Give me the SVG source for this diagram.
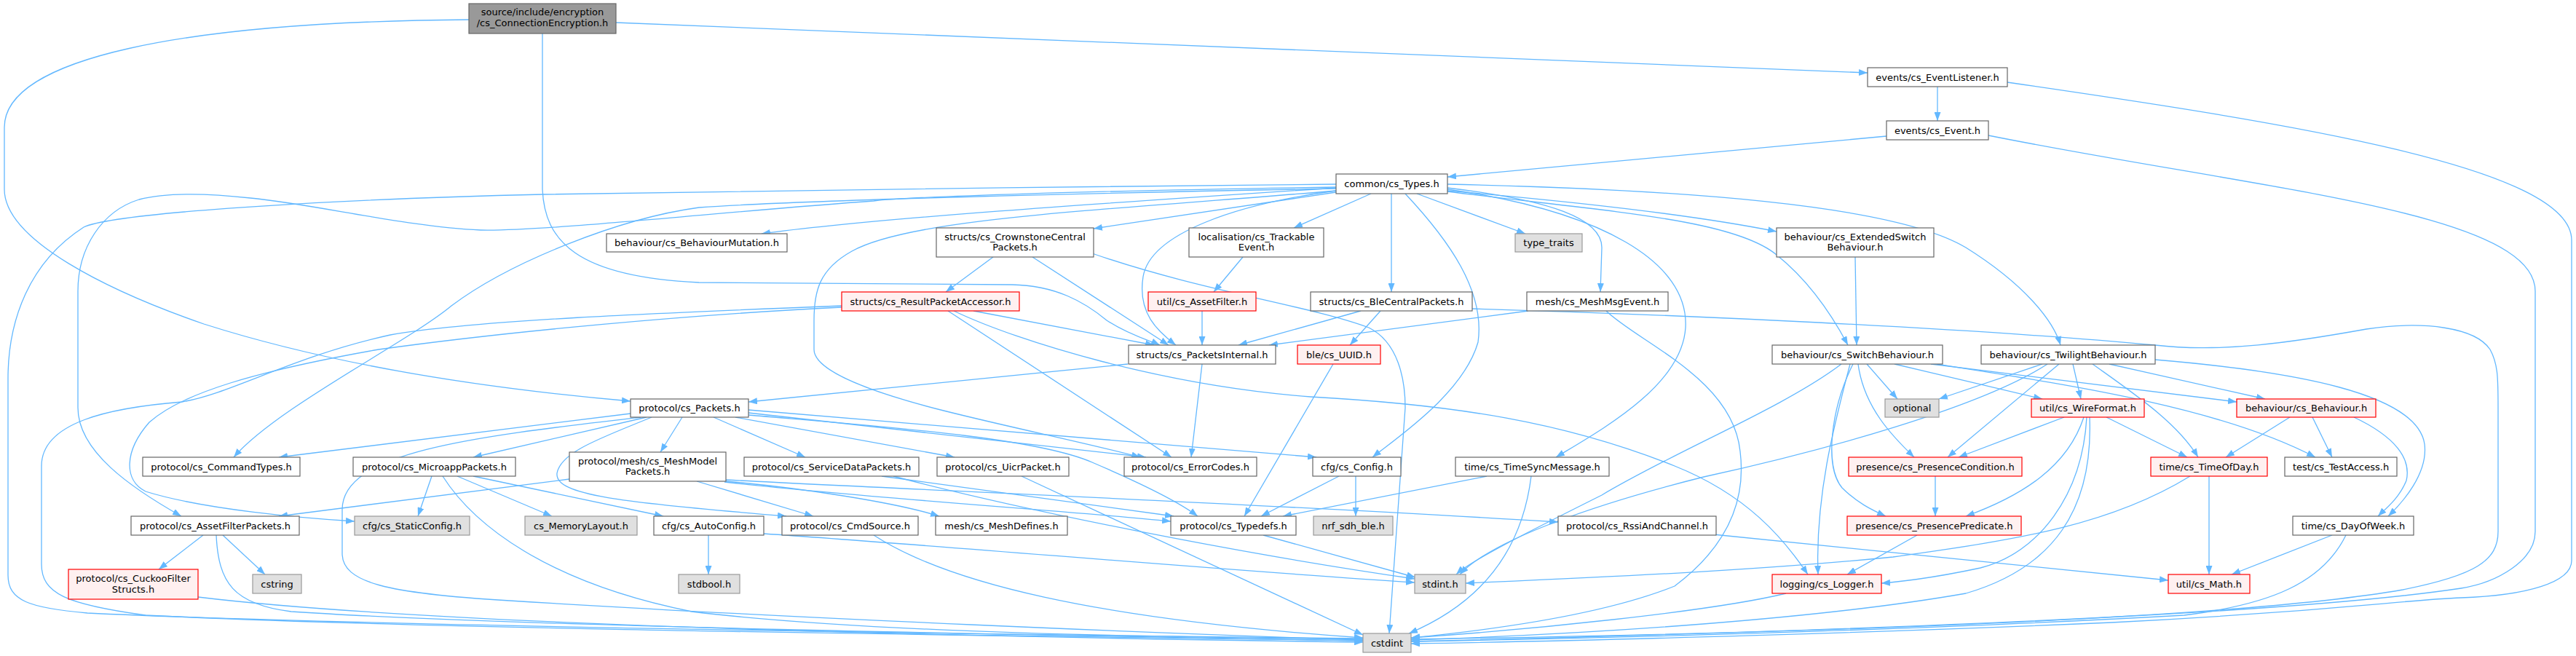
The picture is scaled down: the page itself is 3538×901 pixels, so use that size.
<svg xmlns="http://www.w3.org/2000/svg" width="3538" height="901" viewBox="0 0 3538 901">
<style>
.n rect{fill:#fff;stroke:#666;stroke-width:1.2}
.r rect{fill:#FFF0F0;stroke:#F00;stroke-width:1.2}
.g rect{fill:#E0E0E0;stroke:#999;stroke-width:1.2}
.m rect{fill:#999;stroke:#666;stroke-width:1.2}
text{font-family:"DejaVu Sans","Liberation Sans",sans-serif;font-size:13px;fill:#000;text-anchor:middle}
#edges path{fill:none;stroke:#63B8FF;stroke-width:1.3;marker-end:url(#arr)}
</style>
<defs>
<marker id="arr" viewBox="0 0 12 9" refX="12" refY="4.5" markerWidth="12" markerHeight="9" markerUnits="userSpaceOnUse" orient="auto">
<path d="M0,0 L12,4.5 L0,9 z" fill="#63B8FF"/>
</marker>
</defs>
<rect width="3538" height="901" fill="#fff"/>
<g id="edges">
<path d="M644,27 C250,30 6,80 6,175 L6,260 C6,330 150,400 280,445 C500,515 740,540 866,551"/>
<path d="M745,46 L745,260 C748,330 790,380 960,388 L1390,391 C1450,392 1490,415 1520,440 C1550,460 1580,468 1593,474"/>
<path d="M846,31 L2565,100"/>
<path d="M2661,119 L2661,166"/>
<path d="M2757,113 C3150,170 3532,230 3532,330 L3532,770 C3532,800 3470,818 3380,821 C3300,824 3200,840 2900,855 C2600,868 2200,880 1938,884"/>
<path d="M2591,187 L1988,243"/>
<path d="M2731,186 C3100,260 3482,290 3482,400 L3482,730 C3482,770 3430,800 3380,808 C3200,835 2800,860 1938,881"/>
<path d="M1835,258 C1500,280 1200,300 1046,321"/>
<path d="M1835,264 L1502,314"/>
<path d="M1883,266 L1777,313"/>
<path d="M1911,266 L1911,401"/>
<path d="M1930,266 C1990,330 2040,400 2030,470 C2010,540 1920,600 1885,628"/>
<path d="M1946,266 L2095,321"/>
<path d="M1988,258 C2130,275 2200,300 2200,340 L2198,401"/>
<path d="M1988,260 C2200,290 2320,360 2315,450 C2310,530 2200,590 2137,628"/>
<path d="M1988,253 C2300,260 2600,280 2700,340 C2780,390 2820,440 2830,474"/>
<path d="M1988,262 C2200,280 2350,300 2440,318"/>
<path d="M1988,263 C2200,290 2380,300 2440,350 C2490,390 2520,440 2538,474"/>
<path d="M2548,353 L2550,474"/>
<path d="M1835,262 C1700,280 1580,320 1570,380 C1562,430 1590,455 1615,474"/>
<path d="M1835,253 C1500,256 1000,262 746,267 C400,275 150,295 115,312 C40,360 11,440 11,520 L11,790 C11,825 40,835 120,842 C500,860 1400,872 1872,877"/>
<path d="M1835,257 C1500,262 1250,270 1200,276 C1000,290 750,318 660,316 C560,312 430,280 344,272 C290,266 230,264 191,274 C140,290 107,340 107,400 L107,560 C107,620 180,670 249,709"/>
<path d="M1835,259 C1500,265 1100,275 960,285 C850,300 700,360 620,420 C560,470 380,560 321,628"/>
<path d="M1835,262 C1500,290 1250,300 1170,345 C1125,370 1118,400 1118,440 L1118,480 C1118,510 1200,540 1300,565 C1400,590 1500,610 1566,628"/>
<path d="M1364,353 L1299,401"/>
<path d="M1418,353 L1605,474"/>
<path d="M1500,348 C1650,400 1800,420 1880,450 C1920,470 1930,520 1930,560 L1908,870"/>
<path d="M1707,353 L1667,401"/>
<path d="M1651,427 L1651,474"/>
<path d="M1869,427 L1701,474"/>
<path d="M1896,427 L1854,474"/>
<path d="M2022,424 C2300,432 2700,450 2960,474 C3050,485 3150,470 3250,452 C3330,440 3400,450 3420,480 C3431,500 3431,520 3431,560 L3431,730 C3431,770 3400,790 3300,810 C3100,845 2600,868 1938,878"/>
<path d="M2099,427 L1743,474"/>
<path d="M2206,427 C2250,470 2380,520 2390,620 C2400,700 2360,760 2300,805 C2200,845 2050,865 1938,876"/>
<path d="M1337,427 L1585,474"/>
<path d="M1302,427 L1609,628"/>
<path d="M1310,427 C1400,470 1600,530 1800,545 C2000,556 2150,580 2300,640 C2400,680 2450,740 2483,789"/>
<path d="M1156,420 C900,430 650,440 536,460 C400,490 320,540 250,552 C150,560 57,580 57,640 L57,775 C57,815 90,830 200,845 C600,865 1400,873 1872,880"/>
<path d="M1156,422 C950,432 700,455 520,480 C350,510 250,540 205,580 C170,620 170,660 200,675 C280,700 420,712 487,716"/>
<path d="M1549,500 L1028,552"/>
<path d="M1651,500 L1636,628"/>
<path d="M1831,500 L1709,709"/>
<path d="M866,568 L383,628"/>
<path d="M880,573 C650,600 470,620 470,700 L470,760 C470,800 530,815 700,825 C1100,850 1600,870 1872,879"/>
<path d="M888,573 L650,628"/>
<path d="M937,573 L907,621"/>
<path d="M980,573 L1106,628"/>
<path d="M1010,573 L1311,628"/>
<path d="M895,573 C830,600 770,620 765,650 C762,680 850,690 1080,709"/>
<path d="M1028,563 L1808,628"/>
<path d="M1028,567 L1574,628"/>
<path d="M1028,570 C1200,585 1420,600 1500,635 C1570,665 1620,690 1645,709"/>
<path d="M593,654 L574,709"/>
<path d="M628,654 L758,709"/>
<path d="M650,654 L911,709"/>
<path d="M608,654 C650,720 750,800 950,840 C1200,870 1600,875 1872,878"/>
<path d="M782,658 L383,709"/>
<path d="M957,661 L1117,709"/>
<path d="M997,659 C1300,675 1700,690 2140,717"/>
<path d="M997,661 C1100,670 1230,690 1290,709"/>
<path d="M995,662 C1200,685 1450,700 1608,716"/>
<path d="M1211,654 L1612,709"/>
<path d="M1227,654 C1400,700 1700,760 1943,795"/>
<path d="M1403,654 L1872,872"/>
<path d="M1839,654 L1732,709"/>
<path d="M1862,654 L1862,709"/>
<path d="M2042,654 L1762,709"/>
<path d="M2103,654 C2090,760 2030,830 1935,870"/>
<path d="M1735,735 L1944,793"/>
<path d="M1049,733 C1300,750 1700,785 1943,800"/>
<path d="M973,735 L973,789"/>
<path d="M1200,735 C1300,800 1500,850 1872,876"/>
<path d="M279,735 L218,782"/>
<path d="M306,735 L364,789"/>
<path d="M297,735 C300,800 320,830 400,840 C700,860 1400,872 1872,880"/>
<path d="M272,820 C600,860 1400,876 1872,882"/>
<path d="M2529,500 C2450,560 2300,620 2200,680 C2100,730 2020,770 2000,789"/>
<path d="M2541,500 C2520,580 2493,680 2497,789"/>
<path d="M2545,500 C2515,560 2505,640 2530,670 C2550,690 2570,700 2590,709"/>
<path d="M2552,500 C2560,560 2600,600 2629,628"/>
<path d="M2564,500 L2606,548"/>
<path d="M2602,500 L2805,548"/>
<path d="M2652,500 L3072,552"/>
<path d="M2660,500 C2850,530 3050,560 3180,628"/>
<path d="M2805,500 L2663,548"/>
<path d="M2812,500 C2720,560 2500,620 2340,655 C2200,690 2050,740 2005,789"/>
<path d="M2828,500 L2675,628"/>
<path d="M2847,500 L2858,548"/>
<path d="M2874,500 C2930,540 2990,580 3019,628"/>
<path d="M2897,500 L3111,548"/>
<path d="M2960,494 C3150,510 3320,540 3330,610 C3335,650 3300,690 3280,709"/>
<path d="M2835,573 L2690,628"/>
<path d="M2862,573 C2840,640 2780,680 2700,709"/>
<path d="M2866,573 C2860,680 2800,760 2720,780 C2650,795 2600,800 2584,801"/>
<path d="M2870,573 C2875,700 2820,780 2700,815 C2500,850 2200,870 1938,879"/>
<path d="M2893,573 L3004,628"/>
<path d="M3145,573 L3057,628"/>
<path d="M3176,573 L3203,628"/>
<path d="M3233,573 C3290,600 3312,630 3305,660 C3295,685 3275,700 3266,709"/>
<path d="M2658,654 L2658,709"/>
<path d="M2633,735 L2537,789"/>
<path d="M3034,654 L3034,789"/>
<path d="M3008,654 C2900,720 2780,740 2600,765 C2400,785 2150,795 2013,801"/>
<path d="M3203,735 L3065,789"/>
<path d="M3222,735 C3190,800 3120,830 3000,845 C2700,862 2300,875 1938,881"/>
<path d="M2453,815 C2350,840 2100,865 1938,876"/>
<path d="M2353,734 L2978,797"/>
</g>
<g id="n_main" class="m"><rect x="644" y="5" width="202" height="41"/><text x="745" y="21">source/include/encryption</text><text x="745" y="36">/cs_ConnectionEncryption.h</text></g>
<g id="n_evl" class="n"><rect x="2565" y="93" width="192" height="26"/><text x="2661" y="110.5">events/cs_EventListener.h</text></g>
<g id="n_ev" class="n"><rect x="2591" y="166" width="140" height="26"/><text x="2661" y="183.5">events/cs_Event.h</text></g>
<g id="n_types" class="n"><rect x="1835" y="239" width="153" height="27"/><text x="1911.5" y="257">common/cs_Types.h</text></g>
<g id="n_bmut" class="n"><rect x="833" y="321" width="248" height="25"/><text x="957" y="338">behaviour/cs_BehaviourMutation.h</text></g>
<g id="n_ccp" class="n"><rect x="1286" y="313" width="216" height="40"/><text x="1394" y="329.5">structs/cs_CrownstoneCentral</text><text x="1394" y="344">Packets.h</text></g>
<g id="n_track" class="n"><rect x="1633" y="313" width="185" height="40"/><text x="1725.5" y="329.5">localisation/cs_Trackable</text><text x="1725.5" y="344">Event.h</text></g>
<g id="n_tt" class="g"><rect x="2081" y="321" width="92" height="25"/><text x="2127" y="338">type_traits</text></g>
<g id="n_ext" class="n"><rect x="2440" y="313" width="216" height="40"/><text x="2548" y="329.5">behaviour/cs_ExtendedSwitch</text><text x="2548" y="344">Behaviour.h</text></g>
<g id="n_rpa" class="r"><rect x="1156" y="401" width="244" height="26"/><text x="1278" y="418.5">structs/cs_ResultPacketAccessor.h</text></g>
<g id="n_af" class="r"><rect x="1577" y="401" width="148" height="26"/><text x="1651" y="418.5">util/cs_AssetFilter.h</text></g>
<g id="n_blec" class="n"><rect x="1800" y="401" width="222" height="26"/><text x="1911" y="418.5">structs/cs_BleCentralPackets.h</text></g>
<g id="n_mme" class="n"><rect x="2097" y="401" width="194" height="26"/><text x="2194" y="418.5">mesh/cs_MeshMsgEvent.h</text></g>
<g id="n_pint" class="n"><rect x="1550" y="474" width="202" height="26"/><text x="1651" y="491.5">structs/cs_PacketsInternal.h</text></g>
<g id="n_uuid" class="r"><rect x="1782" y="474" width="114" height="26"/><text x="1839" y="491.5">ble/cs_UUID.h</text></g>
<g id="n_sw" class="n"><rect x="2434" y="474" width="234" height="26"/><text x="2551" y="491.5">behaviour/cs_SwitchBehaviour.h</text></g>
<g id="n_tw" class="n"><rect x="2721" y="474" width="239" height="26"/><text x="2840.5" y="491.5">behaviour/cs_TwilightBehaviour.h</text></g>
<g id="n_pk" class="n"><rect x="866" y="548" width="162" height="25"/><text x="947" y="565">protocol/cs_Packets.h</text></g>
<g id="n_opt" class="g"><rect x="2589" y="548" width="74" height="25"/><text x="2626" y="565">optional</text></g>
<g id="n_wf" class="r"><rect x="2790" y="548" width="155" height="25"/><text x="2867.5" y="565">util/cs_WireFormat.h</text></g>
<g id="n_beh" class="r"><rect x="3072" y="548" width="191" height="25"/><text x="3167.5" y="565">behaviour/cs_Behaviour.h</text></g>
<g id="n_cmdt" class="n"><rect x="196" y="628" width="216" height="26"/><text x="304" y="645.5">protocol/cs_CommandTypes.h</text></g>
<g id="n_micro" class="n"><rect x="485" y="628" width="223" height="26"/><text x="596.5" y="645.5">protocol/cs_MicroappPackets.h</text></g>
<g id="n_mmp" class="n"><rect x="782" y="621" width="215" height="40"/><text x="889.5" y="637.5">protocol/mesh/cs_MeshModel</text><text x="889.5" y="652">Packets.h</text></g>
<g id="n_sdp" class="n"><rect x="1022" y="628" width="240" height="26"/><text x="1142" y="645.5">protocol/cs_ServiceDataPackets.h</text></g>
<g id="n_uicr" class="n"><rect x="1287" y="628" width="181" height="26"/><text x="1377.5" y="645.5">protocol/cs_UicrPacket.h</text></g>
<g id="n_err" class="n"><rect x="1544" y="628" width="182" height="26"/><text x="1635" y="645.5">protocol/cs_ErrorCodes.h</text></g>
<g id="n_cfg" class="n"><rect x="1803" y="628" width="121" height="26"/><text x="1863.5" y="645.5">cfg/cs_Config.h</text></g>
<g id="n_tsm" class="n"><rect x="1999" y="628" width="211" height="26"/><text x="2104.5" y="645.5">time/cs_TimeSyncMessage.h</text></g>
<g id="n_pc" class="r"><rect x="2539" y="628" width="238" height="26"/><text x="2658" y="645.5">presence/cs_PresenceCondition.h</text></g>
<g id="n_tod" class="r"><rect x="2954" y="628" width="160" height="26"/><text x="3034" y="645.5">time/cs_TimeOfDay.h</text></g>
<g id="n_ta" class="n"><rect x="3138" y="628" width="154" height="26"/><text x="3215" y="645.5">test/cs_TestAccess.h</text></g>
<g id="n_afp" class="n"><rect x="180" y="709" width="231" height="26"/><text x="295.5" y="726.5">protocol/cs_AssetFilterPackets.h</text></g>
<g id="n_sc" class="g"><rect x="487" y="709" width="158" height="26"/><text x="566" y="726.5">cfg/cs_StaticConfig.h</text></g>
<g id="n_ml" class="g"><rect x="721" y="709" width="154" height="26"/><text x="798" y="726.5">cs_MemoryLayout.h</text></g>
<g id="n_ac" class="n"><rect x="898" y="709" width="151" height="26"/><text x="973.5" y="726.5">cfg/cs_AutoConfig.h</text></g>
<g id="n_cs" class="n"><rect x="1074" y="709" width="187" height="26"/><text x="1167.5" y="726.5">protocol/cs_CmdSource.h</text></g>
<g id="n_md" class="n"><rect x="1285" y="709" width="181" height="26"/><text x="1375.5" y="726.5">mesh/cs_MeshDefines.h</text></g>
<g id="n_td" class="n"><rect x="1608" y="709" width="172" height="26"/><text x="1694" y="726.5">protocol/cs_Typedefs.h</text></g>
<g id="n_nrf" class="g"><rect x="1804" y="709" width="109" height="26"/><text x="1858.5" y="726.5">nrf_sdh_ble.h</text></g>
<g id="n_rssi" class="n"><rect x="2140" y="709" width="217" height="26"/><text x="2248.5" y="726.5">protocol/cs_RssiAndChannel.h</text></g>
<g id="n_pp" class="r"><rect x="2537" y="709" width="239" height="26"/><text x="2656.5" y="726.5">presence/cs_PresencePredicate.h</text></g>
<g id="n_dow" class="n"><rect x="3149" y="709" width="166" height="26"/><text x="3232" y="726.5">time/cs_DayOfWeek.h</text></g>
<g id="n_cuckoo" class="r"><rect x="94" y="782" width="178" height="41"/><text x="183" y="798.5">protocol/cs_CuckooFilter</text><text x="183" y="813.5">Structs.h</text></g>
<g id="n_cstring" class="g"><rect x="347" y="789" width="67" height="26"/><text x="380.5" y="806.5">cstring</text></g>
<g id="n_stdbool" class="g"><rect x="932" y="789" width="84" height="26"/><text x="974" y="806.5">stdbool.h</text></g>
<g id="n_stdint" class="g"><rect x="1943" y="789" width="70" height="26"/><text x="1978" y="806.5">stdint.h</text></g>
<g id="n_log" class="r"><rect x="2434" y="789" width="150" height="26"/><text x="2509" y="806.5">logging/cs_Logger.h</text></g>
<g id="n_math" class="r"><rect x="2978" y="789" width="112" height="26"/><text x="3034" y="806.5">util/cs_Math.h</text></g>
<g id="n_cstdint" class="g"><rect x="1872" y="870" width="66" height="26"/><text x="1905" y="887.5">cstdint</text></g>
</svg>
